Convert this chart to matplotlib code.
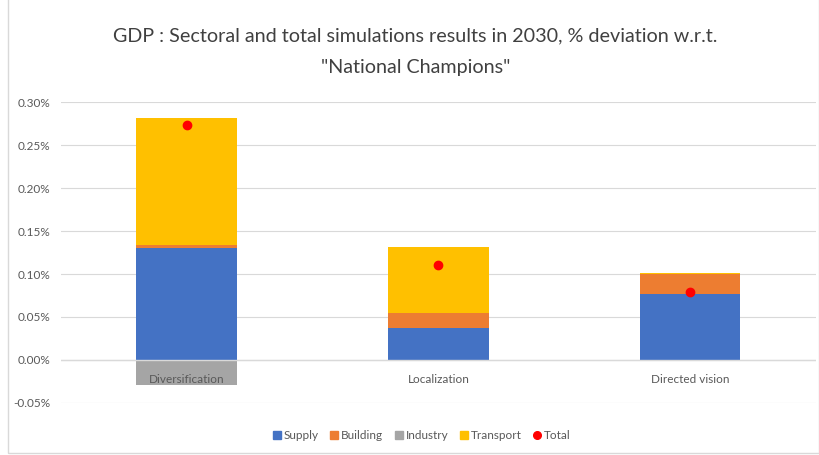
import matplotlib.pyplot as plt
from matplotlib.lines import Line2D
import numpy as np

plt.rcParams['font.family'] = ['Lato', 'DejaVu Sans']

categories = ['Diversification', 'Localization', 'Directed vision']
supply = [0.1306, 0.0376, 0.0771]
building = [0.0031, 0.0174, 0.0226]
industry = [-0.0290, 0.0, 0.0]
transport = [0.1473, 0.0760, 0.0010]
total = [0.2730, 0.1105, 0.0795]

series = [('Supply', supply, '#4472C4'),
          ('Building', building, '#ED7D31'),
          ('Industry', industry, '#A5A5A5'),
          ('Transport', transport, '#FFC000')]

fig = plt.figure(figsize=(8.19, 4.55), dpi=100)
ax = fig.add_axes([0.0745, 0.1143, 0.9215, 0.6615])

x = np.arange(len(categories))
pos = np.zeros(len(categories))
neg = np.zeros(len(categories))
for name, vals, col in series:
    vals = np.asarray(vals)
    bottom = np.where(vals >= 0, pos, neg)
    ax.bar(x, vals, 0.4, bottom=bottom, color=col, zorder=2)
    pos = pos + np.where(vals >= 0, vals, 0)
    neg = neg + np.where(vals < 0, vals, 0)

ax.plot(x, total, 'o', color='#FF0000', markersize=6, zorder=4)

ax.set_xlim(-0.5, 2.5)
ax.set_ylim(-0.05, 0.30)
ax.set_yticks(np.arange(-0.05, 0.301, 0.05))
ax.set_yticklabels(['%.2f%%' % v for v in np.arange(-0.05, 0.301, 0.05)])
ax.grid(axis='y', color='#D9D9D9', linewidth=0.8, zorder=0)
ax.axhline(0, color='#D9D9D9', linewidth=1.0, zorder=3)
ax.set_xticks([])
ax.tick_params(axis='y', length=0, labelsize=8.5, labelcolor='#595959', pad=8)
for s in ax.spines.values():
    s.set_visible(False)

for i, c in enumerate(categories):
    ax.annotate(c, (i, 0), xytext=(0, -14), textcoords='offset points',
                ha='center', va='center', fontsize=8.5, color='#595959', zorder=5)

fig.text(0.507, 0.922, 'GDP : Sectoral and total simulations results in 2030, % deviation w.r.t.',
         ha='center', va='center', fontsize=14.2, color='#404040')
fig.text(0.507, 0.852, '"National Champions"', ha='center', va='center',
         fontsize=14.2, color='#404040')

handles = [Line2D([], [], marker='s', linestyle='', color=col, markersize=6)
           for name, vals, col in series]
handles.append(Line2D([], [], marker='o', linestyle='', color='#FF0000', markersize=5.5))
labels = [s[0] for s in series] + ['Total']
fig.legend(handles, labels, loc='center', bbox_to_anchor=(0.512, 0.042), ncol=5,
           frameon=False, fontsize=8.5, handletextpad=-0.2, columnspacing=0.6,
           handlelength=1.5, labelcolor='#595959')

fig.patches.append(plt.Rectangle((0.01, 0.005), 0.99, 1.0, transform=fig.transFigure,
                                 fill=False, edgecolor='#D9D9D9', linewidth=1))

plt.savefig('out.png')
